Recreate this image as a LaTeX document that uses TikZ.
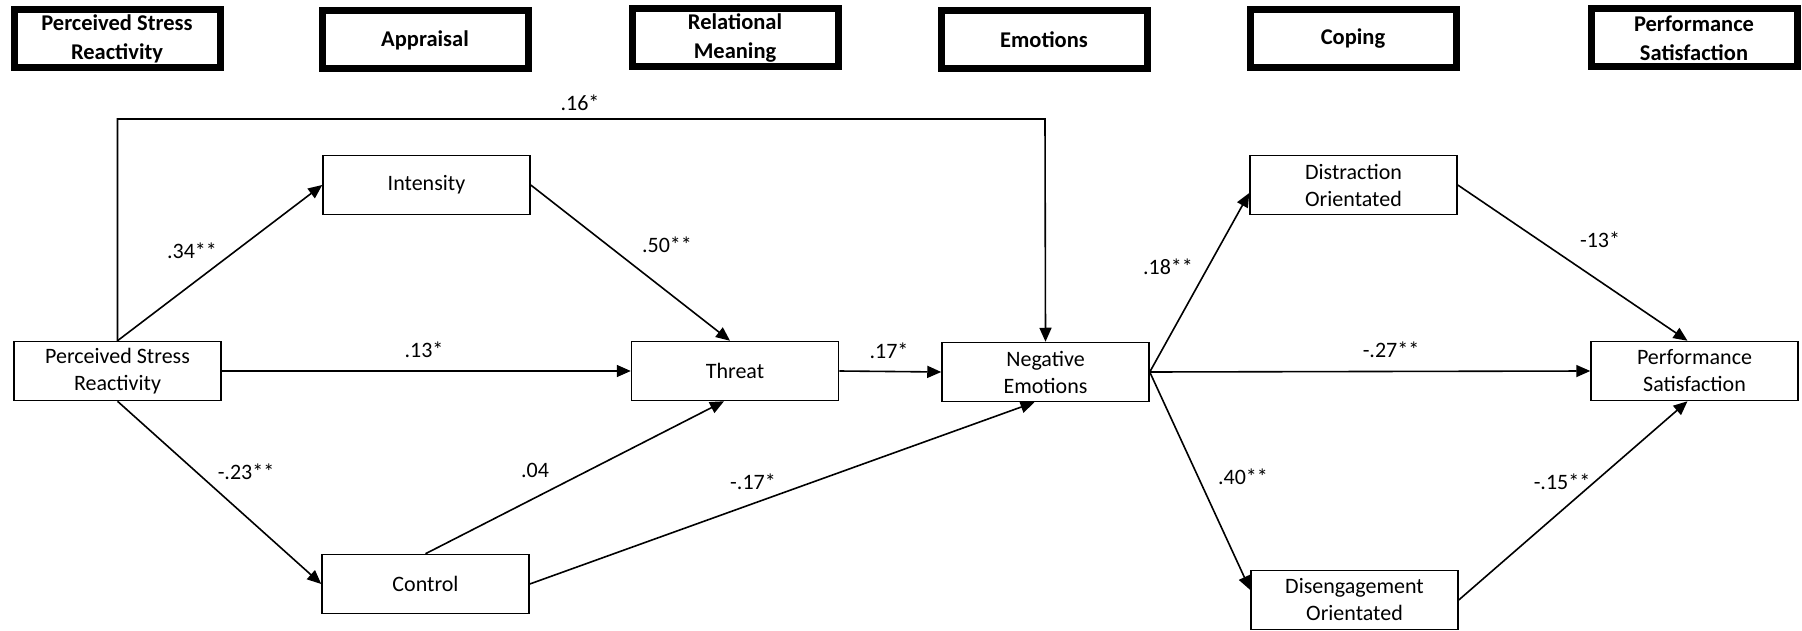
\documentclass[tikz,border=0pt]{standalone}
\usepackage{fontspec}
\setmainfont{Carlito}
\usetikzlibrary{arrows.meta}
\usetikzlibrary{calc}

\begin{document}
\begin{tikzpicture}[x=1pt, y=-1pt]
        % ================= 样式定义 =================
        \tikzset{
            % 标题框:粗黑边
            headbox/.style={rectangle, draw=black, line width=7pt, fill=white, minimum width=206pt, minimum height=58pt, inner sep=0pt, align=center, font=\fontsize{22.5}{29}\selectfont\bfseries},
            % 变量框:细黑边
            vbox/.style={rectangle, draw=black, line width=1.5pt, fill=white, minimum width=207pt, minimum height=59pt, inner sep=0pt, align=center, font=\fontsize{22}{27}\selectfont},
            % 路径系数
            coef/.style={inner sep=0pt, font=\fontsize{22}{27}\selectfont},
            % 连边样式
            edge/.style={line width=1.6pt, black, -{Triangle[length=14pt, width=12pt]}}
        }
        \useasboundingbox (0,0) rectangle (1802,631);

        % ================= 标题行 =================
        \node[headbox] (h1) at (117, 39) {Perceived Stress\\Reactivity};
        \node[headbox] (h2) at (425, 40) {Appraisal};
        \node[headbox] (h3) at (735, 38) {Relational\\Meaning};
        \node[headbox] (h4) at (1044, 40) {Emotions};
        \node[headbox] (h5) at (1353, 39) {Coping};
        \node[headbox] (h6) at (1694, 38) {Performance\\Satisfaction};

        % ================= 变量节点 =================
        \node[vbox] (psr) at (117.5, 371) {Perceived Stress\\Reactivity};
        \node[vbox] (intensity) at (426.5, 185) {Intensity};
        \node[vbox] (threat) at (735, 371) {Threat};
        \node[vbox] (control) at (425.5, 584) {Control};
        \node[vbox] (negem) at (1045.5, 372) {Negative\\Emotions};
        \node[vbox] (dist) at (1353.5, 185) {Distraction\\Orientated};
        \node[vbox] (diseng) at (1354.5, 600) {Disengagement\\Orientated};
        \node[vbox] (perf) at (1694.5, 371) {Performance\\Satisfaction};

        \coordinate (topbend) at (1045, 119);

        % ================= 连边 =================
        % 1. 压力反应性
        \draw[edge] (psr.north) |- (topbend) -- (negem.north);
        \draw[edge] (psr.north) -- (intensity.west);
        \draw[edge] (psr.east) -- (threat.west);
        \draw[edge] (psr.south) -- (control.west);

        % 2. 评估 -> 威胁 / 负性情绪
        \draw[edge] (intensity.east) -- ([xshift=-5pt]threat.north);
        \draw[edge] (control.north) -- ([xshift=-11pt]threat.south);
        \draw[edge] (control.east) -- ([xshift=-11pt]negem.south);
        \draw[edge] (threat.east) -- (negem.west);

        % 3. 应对
        \draw[edge] (negem.east) -- ([yshift=-8pt]dist.west);
        \draw[edge] (negem.east) -- (perf.west);
        \draw[edge] (negem.east) -- ([yshift=10pt]diseng.west);
        \draw[edge] (dist.east) -- ([xshift=-7pt]perf.north);
        \draw[edge] (diseng.east) -- ([xshift=-7pt]perf.south);

        % ================= 系数 =================
        \node[coef] (c16) at (580, 103) {.16*};
        \node[coef] (c34) at (192, 251) {.34**};
        \node[coef] (c13) at (424, 350) {.13*};
        \node[coef] (c23) at (246, 472) {-.23**};
        \node[coef] (c50) at (667, 245) {.50**};
        \node[coef] (c04) at (535, 470) {.04};
        \node[coef] (c17n) at (753, 482) {-.17*};
        \node[coef] (c17) at (889, 351) {.17*};
        \node[coef] (c18) at (1168, 267) {.18**};
        \node[coef] (c27) at (1391, 350) {-.27**};
        \node[coef] (c40) at (1243, 477) {.40**};
        \node[coef] (c13n) at (1600, 240) {-13*};
        \node[coef] (c15) at (1562, 482) {-.15**};

    \end{tikzpicture}
\end{document}
